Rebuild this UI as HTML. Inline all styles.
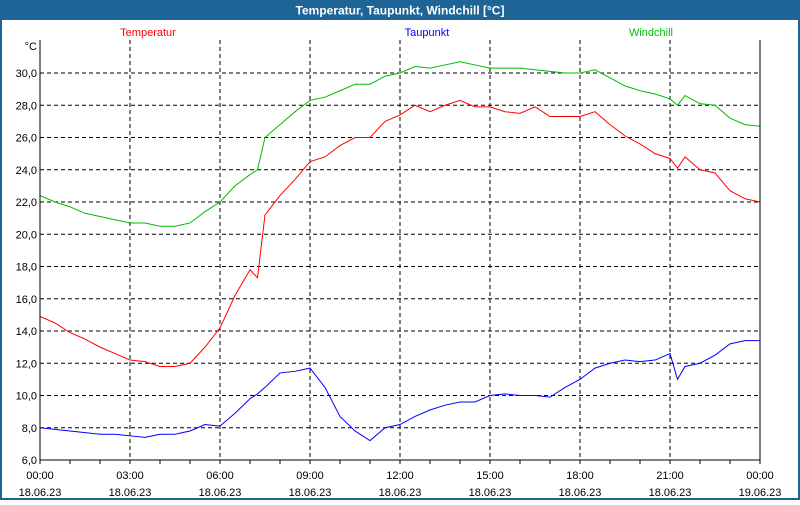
<!DOCTYPE html>
<html><head><meta charset="utf-8"><style>
body{margin:0;width:800px;height:500px;overflow:hidden;background:#fff;font-family:"Liberation Sans",sans-serif}
</style></head><body>
<svg width="800" height="500" xmlns="http://www.w3.org/2000/svg">
<rect x="0" y="0" width="800" height="500" fill="#fff" stroke="#1e6496" stroke-width="4"/>
<rect x="0" y="0" width="800" height="20" fill="#1e6496"/>
<text x="400" y="14.5" text-anchor="middle" fill="#fff" font-size="12" font-weight="bold">Temperatur, Taupunkt, Windchill [°C]</text>
<text x="148" y="36" text-anchor="middle" fill="#f00" font-size="11">Temperatur</text>
<text x="427" y="36" text-anchor="middle" fill="#00f" font-size="11">Taupunkt</text>
<text x="651" y="36" text-anchor="middle" fill="#0b0" font-size="11">Windchill</text>
<text x="37" y="50" text-anchor="end" font-size="11">°C</text>
<g id="grid"></g><g id="series"></g><g id="axes"></g>
</svg>
<script>
const times=[0,0.5,1,1.5,2,2.5,3,3.5,4,4.5,5,5.5,6,6.5,7,7.25,7.5,8,8.5,9,9.5,10,10.5,11,11.5,12,12.5,13,13.5,14,14.5,15,15.5,16,16.5,17,17.5,18,18.5,19,19.5,20,20.5,21,21.25,21.5,22,22.5,23,23.5,24];
const temperatur=[14.9,14.5,13.9,13.5,13.0,12.6,12.2,12.1,11.8,11.8,12.0,13.0,14.2,16.2,17.8,17.3,21.2,22.4,23.4,24.5,24.8,25.5,26.0,26.0,27.0,27.4,28.0,27.6,28.0,28.3,27.9,27.9,27.6,27.5,27.9,27.3,27.3,27.3,27.6,26.8,26.1,25.6,25.0,24.7,24.1,24.8,24.0,23.8,22.7,22.2,22.0];
const taupunkt=[8.0,7.9,7.8,7.7,7.6,7.6,7.5,7.4,7.6,7.6,7.8,8.2,8.1,8.9,9.8,10.1,10.5,11.4,11.5,11.7,10.5,8.7,7.8,7.2,8.0,8.2,8.7,9.1,9.4,9.6,9.6,10.0,10.1,10.0,10.0,9.9,10.5,11.0,11.7,12.0,12.2,12.1,12.2,12.6,11.0,11.8,12.0,12.5,13.2,13.4,13.4];
const windchill=[22.4,22.0,21.7,21.3,21.1,20.9,20.7,20.7,20.5,20.5,20.7,21.4,22.0,23.0,23.7,24.0,26.0,26.8,27.6,28.3,28.5,28.9,29.3,29.3,29.8,30.0,30.4,30.3,30.5,30.7,30.5,30.3,30.3,30.3,30.2,30.1,30.0,30.0,30.2,29.7,29.2,28.9,28.7,28.4,28.0,28.6,28.1,28.0,27.2,26.8,26.7];
const yTicks=["6,0","8,0","10,0","12,0","14,0","16,0","18,0","20,0","22,0","24,0","26,0","28,0","30,0"];
const xTimes=["00:00","03:00","06:00","09:00","12:00","15:00","18:00","21:00","00:00"];
const xDates=["18.06.23","18.06.23","18.06.23","18.06.23","18.06.23","18.06.23","18.06.23","18.06.23","19.06.23"];
const NS="http://www.w3.org/2000/svg";
const X=h=>40+h*30, Y=v=>460-(v-6)*16.125;
function mk(tag,attrs,parent,txt){const e=document.createElementNS(NS,tag);for(const k in attrs)e.setAttribute(k,attrs[k]);if(txt!==undefined)e.textContent=txt;document.getElementById(parent).appendChild(e);return e;}
yTicks.forEach((t,i)=>{const v=6+i*2,y=Y(v);
 if(i>0){const l=mk('line',{x1:40,x2:760,y1:y,y2:y,stroke:'#000','stroke-dasharray':'4,3'},'grid');
 
 }
 const tx=mk('text',{x:37,y:y+4,'text-anchor':'end','font-size':11},'axes',t);
 
 });
xTimes.forEach((t,i)=>{const x=X(i*3);
 if(i>0&&i<8){const l=mk('line',{x1:x,x2:x,y1:40,y2:460,stroke:'#000','stroke-dasharray':'4,3'},'grid');
 
 }
 const a=mk('text',{x:x,y:479,'text-anchor':'middle','font-size':11},'axes',t);
 
 
 const b=mk('text',{x:x,y:496,'text-anchor':'middle','font-size':11},'axes',xDates[i]);
 
 });
for(let h=0;h<=24;h++){const t=mk('line',{x1:X(h),x2:X(h),y1:460,y2:464,stroke:'#000'},'axes');
 
 }
const ax=mk('path',{d:'M40,40V460H760V40',fill:'none',stroke:'#000','stroke-width':1},'axes');


[[windchill,'#0b0','windchill-line'],[temperatur,'#f00','temperatur-line'],[taupunkt,'#00f','taupunkt-line']].forEach(([d,c,n])=>{
 const p=mk('polyline',{points:d.map((v,i)=>X(times[i])+','+Y(v)).join(' '),fill:'none',stroke:c,'stroke-width':1},'series');
 
 });
</script>
</body></html>
